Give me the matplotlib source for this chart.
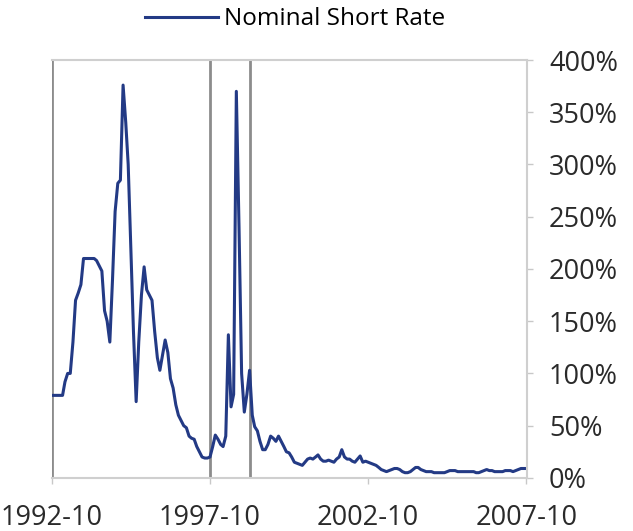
import matplotlib
matplotlib.use("Agg")
import matplotlib.pyplot as plt
import matplotlib.dates as mdates
import pandas as pd

# monthly nominal short rate, %, 1992-10 .. 2007-10
start = "1992-10-01"
end = "2007-10-01"
rate = [
    79, 79, 79, 79, 79, 92, 100, 100, 130, 170,
    177, 185, 210, 210, 210, 210, 210, 208, 203, 198,
    160, 150, 130, 190, 255, 282, 285, 376, 340, 300,
    220, 140, 73, 130, 175, 202, 180, 175, 170, 140,
    115, 103, 118, 132, 120, 95, 86, 70, 60, 55,
    50, 48, 40, 38, 37, 30, 25, 20, 19, 19,
    20, 30, 41, 37, 32, 30, 40, 137, 68, 80,
    370, 240, 100, 63, 80, 103, 60, 49, 45, 35,
    27, 27, 32, 40, 38, 35, 40, 35, 30, 25,
    24, 20, 15, 14, 13, 12, 15, 18, 19, 18,
    20, 22, 18, 16, 16, 17, 16, 15, 18, 20,
    27, 20, 18, 18, 16, 15, 18, 21, 15, 16,
    15, 14, 13, 12, 10, 8, 7, 6, 7, 8,
    9, 9, 8, 6, 5, 5, 6, 8, 10, 10,
    8, 7, 6, 6, 6, 5, 5, 5, 5, 5,
    6, 7, 7, 7, 6, 6, 6, 6, 6, 6,
    6, 5, 5, 6, 7, 8, 7, 7, 6, 6,
    6, 6, 7, 7, 7, 6, 7, 8, 9, 9,
    9,
]
events = ["1992-10-01", "1997-10-01", "1999-01-01"]
ticks = ["1992-10-01", "1997-10-01", "2002-10-01", "2007-10-01"]

dates = pd.date_range(start, end, freq="MS")

plt.rcParams["font.family"] = ["Open Sans", "DejaVu Sans"]

fig = plt.figure(figsize=(6.33, 5.31), dpi=100)
ax = fig.add_axes([0.082, 0.1, 0.75, 0.787])

for d in events:
    ax.axvline(pd.Timestamp(d), color="#8c8c8c", lw=2.0, zorder=1)

ax.plot(dates, rate, color="#233a85", lw=2.2, label="Nominal Short Rate", zorder=2)

ax.set_xlim(pd.Timestamp(start), pd.Timestamp(end) + pd.Timedelta(days=5))
ax.set_ylim(0, 400)

ax.set_xticks([pd.Timestamp(t) for t in ticks])
ax.xaxis.set_major_formatter(mdates.DateFormatter("%Y-%m"))
ax.set_yticks(range(0, 401, 50))
ax.set_yticklabels([f"{v}%" for v in range(0, 401, 50)])

ax.yaxis.tick_right()
ax.tick_params(axis="y", length=4, width=1, color="#c8c8c8", labelsize=19.5, pad=12, labelcolor="#2a2a2a")
ax.tick_params(axis="x", length=4, width=1, color="#c8c8c8", labelsize=19.5, pad=15, labelcolor="#2a2a2a")

for s in ["top", "right", "bottom"]:
    ax.spines[s].set_color("#cfcfcf")
    ax.spines[s].set_linewidth(1.5)
ax.spines["left"].set_visible(False)

ax.legend(loc="lower center", bbox_to_anchor=(0.512, 1.045), frameon=False,
          fontsize=17.5, handlelength=3.0, handletextpad=0.25, borderaxespad=0)

fig.savefig("out.png", dpi=100)
